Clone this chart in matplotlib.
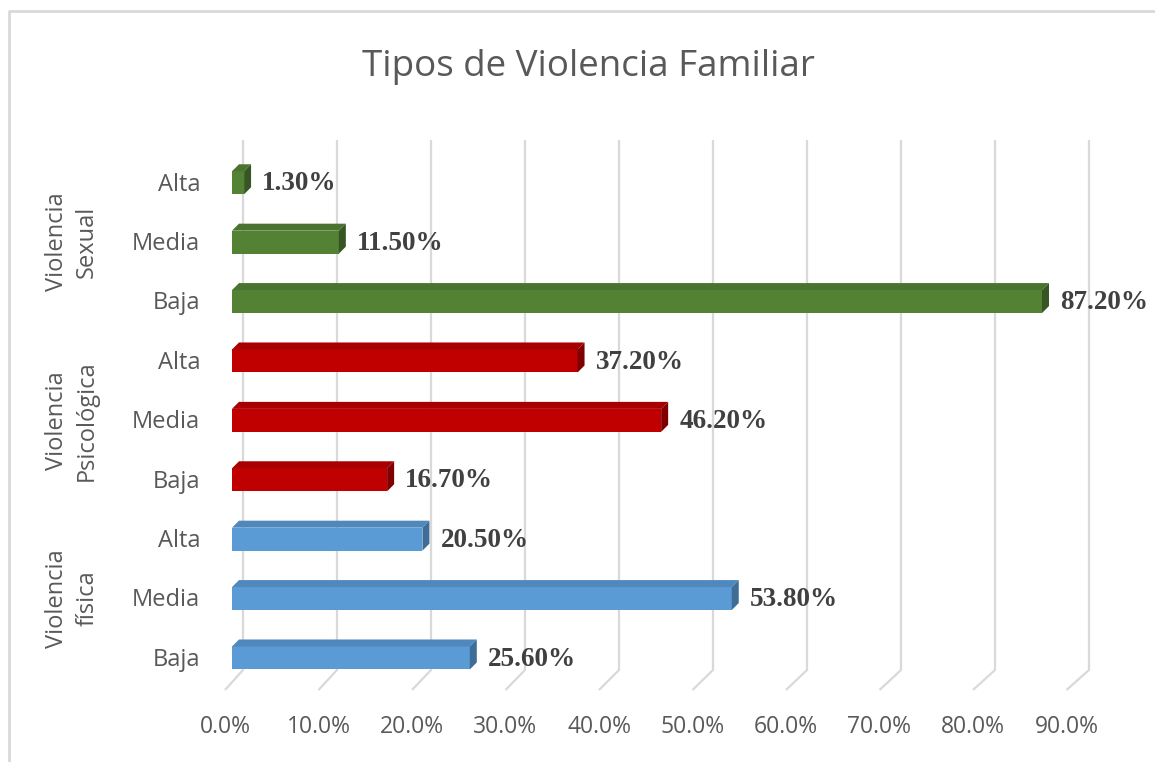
import numpy as np
import matplotlib.pyplot as plt
from matplotlib.patches import Polygon
from matplotlib.lines import Line2D

# datos del gráfico (de abajo hacia arriba)
niveles = ['Baja', 'Media', 'Alta']
grupos = ['Violencia\nfísica', 'Violencia\nPsicológica', 'Violencia\nSexual']
fisica = [25.6, 53.8, 20.5]
psicologica = [16.7, 46.2, 37.2]
sexual = [87.2, 11.5, 1.3]
ticks = [0, 10, 20, 30, 40, 50, 60, 70, 80, 90]

# colores: frente, arriba, lado
colores = [('#5B9BD5', '#4F88BC', '#3E6E98'),
           ('#C00000', '#A80000', '#7F0000'),
           ('#548235', '#4A732F', '#375623')]

W, H = 1155, 762
fig = plt.figure(figsize=(W / 100, H / 100), dpi=100)
# borde del área del gráfico (solo izquierda y arriba visibles)
fig.lines.append(Line2D([8.5 / W, 8.5 / W, 1.0], [0.0, 1 - 11 / H, 1 - 11 / H],
                        transform=fig.transFigure, color='#d9d9d9', lw=2.0))

ax = fig.add_axes([232 / W, 1 - 690 / H, 836 / W, 550 / H])
ax.set_xlim(0, 90)
ax.set_ylim(-0.539, 8.72)
ax.axis('off')

px_x = 836 / 90       # px por unidad x
px_y = 550 / 9.259    # px por unidad y
gris = '#595959'

# rejilla 3D
for t in ticks:
    xb = (11 + 9.4 * t) / px_x
    xf = (-7 + 9.35 * t) / px_x
    ax.plot([xb, xb, xf], [8.72, -0.202, -0.539], color='#d9d9d9', lw=1.6,
            zorder=1, clip_on=False, solid_capstyle='butt')
    ax.text(xf, -1.16, f'{t:.1f}%', ha='center', va='center', fontsize=16.5,
            family='Open Sans', color=gris, clip_on=False)

h = 23 / px_y
dx = 7 / px_x
dy = 7 / px_y

series = [fisica, psicologica, sexual]
for g, (vals, (cf, ct, cs)) in enumerate(zip(series, colores)):
    ys = np.arange(3) + 3 * g
    ax.barh(ys, vals, height=h, color=cf, zorder=3)
    for y, v in zip(ys, vals):
        top = [(0, y + h / 2), (v, y + h / 2), (v + dx, y + h / 2 + dy), (dx, y + h / 2 + dy)]
        side = [(v, y - h / 2), (v + dx, y - h / 2 + dy), (v + dx, y + h / 2 + dy), (v, y + h / 2)]
        ax.add_patch(Polygon(top, closed=True, facecolor=ct, edgecolor='none', zorder=3))
        ax.add_patch(Polygon(side, closed=True, facecolor=cs, edgecolor='none', zorder=3))
        ax.text(v + 18 / px_x, y - 0.02, f'{v:.2f}%', ha='left', va='center',
                fontsize=19.5, fontweight='bold', family='Liberation Serif', color='#404040',
                zorder=4, clip_on=False)
    for y, n in zip(ys, niveles):
        ax.text(-32 / px_x, y - 0.03, n, ha='right', va='center', fontsize=17,
                family='Open Sans', color=gris, clip_on=False)
    ax.text(-160 / px_x, ys[1], grupos[g], ha='center', va='center', rotation=90,
            fontsize=17, family='Open Sans', color=gris, linespacing=1.35,
            multialignment='center', clip_on=False)

fig.text(588 / W, 1 - 67 / H, 'Tipos de Violencia Familiar', ha='center', va='center',
         fontsize=26.5, family='Open Sans', color=gris)

fig.savefig('out.png', dpi=100)
